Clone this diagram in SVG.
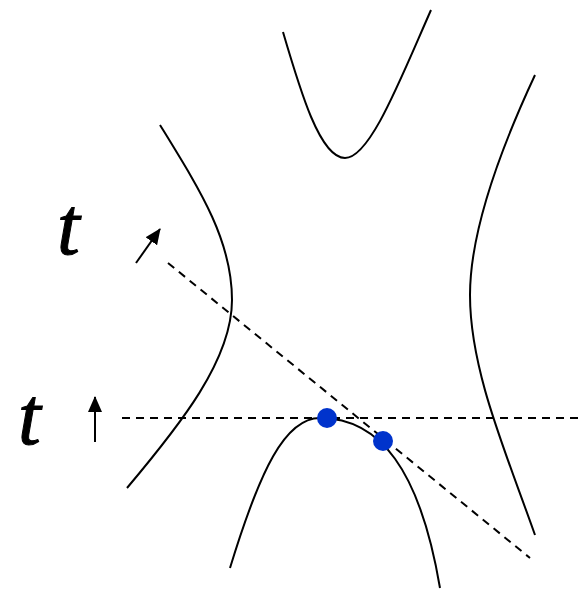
<svg xmlns="http://www.w3.org/2000/svg" width="579" height="591" viewBox="0 0 579 591">
<defs>
<style>
.curve{fill:none;stroke:#000;stroke-width:2}
.dash{fill:none;stroke:#000;stroke-width:2;stroke-dasharray:8,6}
.arr{fill:none;stroke:#000;stroke-width:2}
.lbl{font-family:"Liberation Serif",serif;font-style:italic;font-size:82px;fill:#000;stroke:#000;stroke-width:1}
.dot{fill:#0033cc}
</style>
<marker id="ah2" viewBox="0 0 16 14" refX="15" refY="7" markerWidth="16" markerHeight="14" orient="auto" markerUnits="userSpaceOnUse">
<path d="M0,0 L16,7 L0,14 z" fill="#000"/>
</marker>
</defs>
<g id="curves">
<path id="left" class="curve" d="M160,125 C200,190 232,240 232,300 C232,360 180,425 127,488"/>
<path id="top" class="curve" d="M283,32 C300,90 320,158 345,158 C370,158 400,80 431,10"/>
<path id="right" class="curve" d="M535,75 C500,150 470,230 470,295 C470,370 505,450 535,535"/>
<path id="bottom" class="curve" d="M230,568 C260,470 285,418 320,418 C380,418 420,470 440,588"/>
</g>
<g id="connectors">
<line class="dash" x1="122" y1="418" x2="578" y2="418"/>
<line class="dash" x1="168" y1="263" x2="530" y2="558"/>
<line class="arr" x1="136" y1="263" x2="160" y2="229" marker-end="url(#ah2)"/>
<line class="arr" x1="95" y1="442" x2="95" y2="397" marker-end="url(#ah2)"/>
</g>
<g id="points">
<circle class="dot" cx="327" cy="418" r="10"/>
<circle class="dot" cx="383" cy="441" r="10"/>
</g>
<g id="labels">
<text class="lbl" x="57" y="254">t</text>
<text class="lbl" x="18" y="444">t</text>
</g>
</svg>
